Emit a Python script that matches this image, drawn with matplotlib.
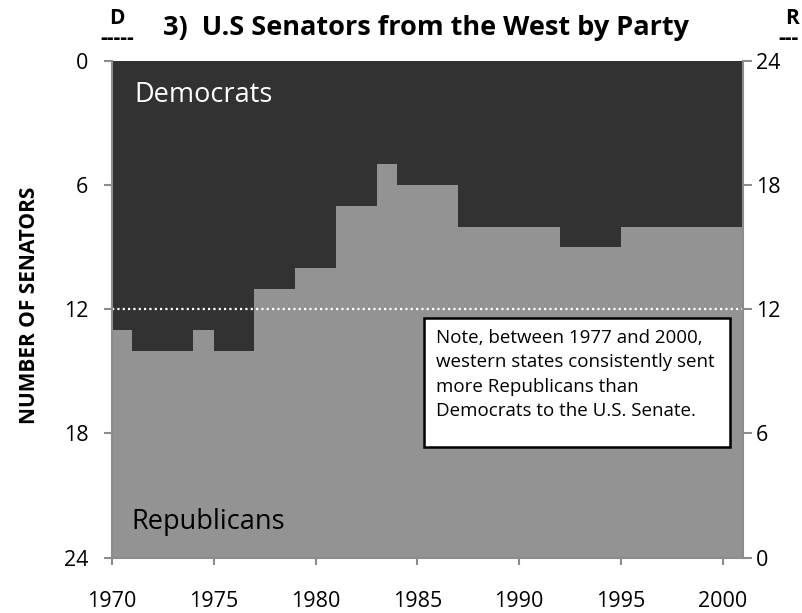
import matplotlib
matplotlib.use("Agg")
import matplotlib.pyplot as plt
from matplotlib.patches import Rectangle

plt.rcParams['font.family'] = ['Open Sans', 'DejaVu Sans']

# Данные: число сенаторов-демократов из западных штатов (всего 24 места)
years = list(range(1970, 2001))
dem = [13, 14, 14, 14, 13, 14, 14, 11, 11, 10, 10, 7, 7, 5, 6, 6, 6,
       8, 8, 8, 8, 8, 9, 9, 9, 8, 8, 8, 8, 8, 8]
total_seats = 24
left_ticks = [0, 6, 12, 18, 24]
right_ticks = [0, 6, 12, 18, 24]
x_ticks = [1970, 1975, 1980, 1985, 1990, 1995, 2000]

dark = '#323232'
light = '#939393'
axis_gray = '#8c8c8c'

# ступени: последний год тянем до конца
xs = years + [years[-1] + 1]
ds = dem + [dem[-1]]

fig = plt.figure(figsize=(8.02, 6.13), dpi=100)
ax = fig.add_axes([112 / 802, 55.5 / 613, 631 / 802, 496.5 / 613])

ax.fill_between(xs, 0, ds, step='post', color=dark, linewidth=0)
ax.fill_between(xs, ds, total_seats, step='post', color=light, linewidth=0)
ax.axhline(total_seats / 2, color='white', lw=1.6, ls=(0, (1, 1.4)))

ax.set_xlim(1970, 2001)
ax.set_ylim(total_seats, 0)
ax.set_yticks(left_ticks)
ax.set_xticks(x_ticks)
ax.tick_params(axis='y', colors=axis_gray, labelcolor='black', labelsize=15.5,
               length=6, width=1.5, pad=11)
ax.tick_params(axis='x', colors=axis_gray, labelcolor='black', labelsize=15.5,
               length=5, width=1.5, pad=19)
for s in ['left', 'bottom']:
    ax.spines[s].set_color(axis_gray)
    ax.spines[s].set_linewidth(1.5)
ax.spines['top'].set_visible(False)
ax.spines['right'].set_visible(False)

ax2 = ax.twinx()
ax2.set_ylim(0, total_seats)
ax2.set_yticks(right_ticks)
ax2.tick_params(axis='y', colors=axis_gray, labelcolor='black', labelsize=15.5,
                length=6.5, width=1.5, pad=3)
ax2.spines['right'].set_color(axis_gray)
ax2.spines['right'].set_linewidth(1.5)
for s in ['top', 'left', 'bottom']:
    ax2.spines[s].set_visible(False)

# подписи областей
ax.text(1971.1, 1.65, 'Democrats', color='white', fontsize=19.5, va='center', ha='left')
ax.text(1970.95, 22.3, 'Republicans', color='black', fontsize=19.5, va='center', ha='left')

# заметка
ax.add_patch(Rectangle((1985.33, 12.41), 15.05, 6.24, facecolor='white',
                       edgecolor='black', lw=1.8, zorder=3))
ax.text(1985.9, 12.95,
        'Note, between 1977 and 2000,\nwestern states consistently sent\n'
        'more Republicans than\nDemocrats to the U.S. Senate.',
        fontsize=13.5, va='top', ha='left', linespacing=1.45, zorder=4)

fig.text(426 / 802, 1 - 28 / 613, '3)  U.S Senators from the West by Party',
         fontsize=19.5, fontweight='bold', ha='center', va='center')
fig.text(30 / 802, 1 - 305 / 613, 'NUMBER OF SENATORS', rotation=90,
         fontsize=15, fontweight='bold', ha='center', va='center')
fig.text(117 / 802, 1 - 19 / 613, 'D', fontsize=15, fontweight='bold', ha='center', va='center')
fig.text(117 / 802, 1 - 39 / 613, '-----', fontsize=15, fontweight='bold', ha='center', va='center')
fig.text(792 / 802, 1 - 19 / 613, 'R', fontsize=15, fontweight='bold', ha='center', va='center')
fig.text(799 / 802, 1 - 39 / 613, '---', fontsize=15, fontweight='bold', ha='right', va='center')

fig.savefig('out.png', dpi=100)
